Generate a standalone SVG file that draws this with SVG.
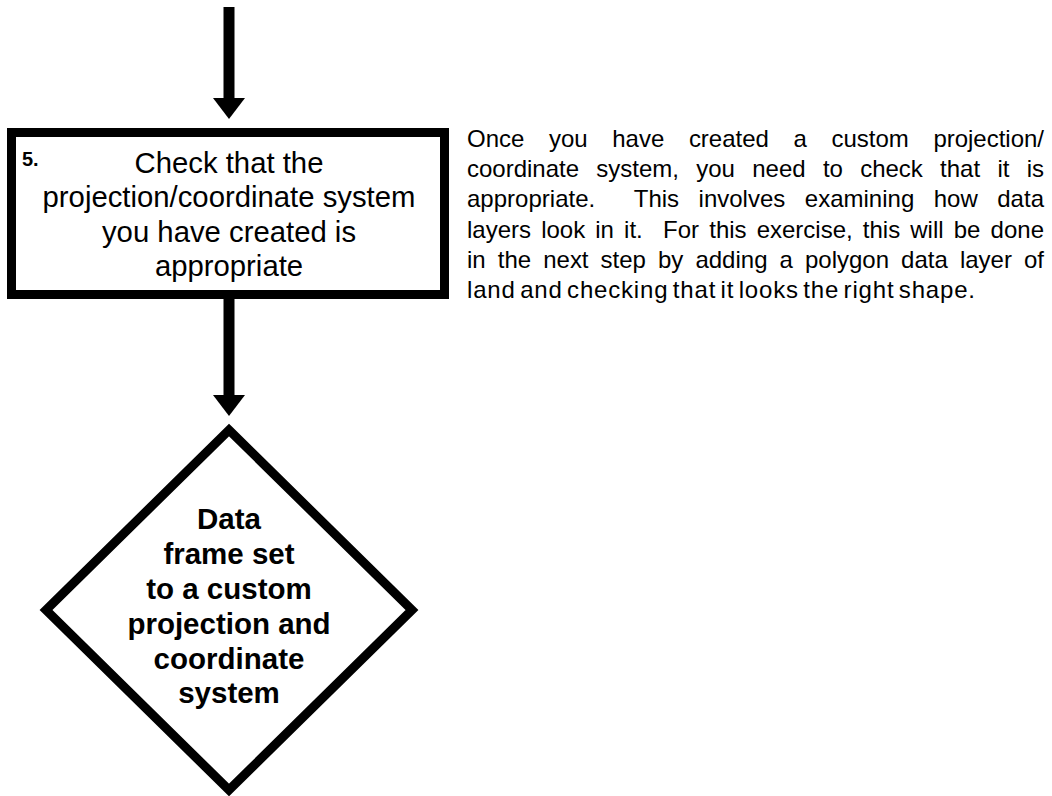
<svg xmlns="http://www.w3.org/2000/svg" width="1052" height="796" viewBox="0 0 1052 796">
<defs>
<style>
.shape{fill:#fff;stroke:#000;stroke-width:9;stroke-linejoin:miter;stroke-miterlimit:10}
.shaft{stroke:#000;stroke-width:11;fill:none}
.box{font-family:"Liberation Sans",Arial,sans-serif;font-size:29.3px;fill:#000;text-anchor:middle}
.dia{font-family:"Liberation Sans",Arial,sans-serif;font-size:29.5px;font-weight:bold;fill:#000;text-anchor:middle}
.num{font-family:"Liberation Sans",Arial,sans-serif;font-size:20px;font-weight:bold;fill:#000}
.note{font-family:"Liberation Sans",Arial,sans-serif;font-size:24px;fill:#000}
</style>
<marker id="head" viewBox="0 0 21 32" refX="1" refY="16" markerWidth="21" markerHeight="32" markerUnits="userSpaceOnUse" orient="auto">
<path d="M0,0 L21,16 L0,32 Z" fill="#000"/>
</marker>
</defs>
<rect x="0" y="0" width="1052" height="796" fill="#fff"/>
<g id="connectors">
<line class="shaft" x1="229" y1="7" x2="229" y2="99" marker-end="url(#head)"/>
<line class="shaft" x1="229" y1="295" x2="229" y2="396" marker-end="url(#head)"/>
</g>
<g id="step5">
<rect class="shape" x="11.5" y="132.5" width="433" height="162"/>
<text class="num" x="22" y="166">5.</text>
<text class="box" x="229" y="172.7">Check that the</text>
<text class="box" x="229" y="207.2">projection/coordinate system</text>
<text class="box" x="229" y="241.7">you have created is</text>
<text class="box" x="229" y="276.2">appropriate</text>
</g>
<g id="decision">
<polygon class="shape" points="229,430 412,610 229,790 46,610"/>
<text class="dia" x="229" y="528.5">Data</text>
<text class="dia" x="229" y="563.7">frame set</text>
<text class="dia" x="229" y="598.9">to a custom</text>
<text class="dia" x="229" y="634">projection and</text>
<text class="dia" x="229" y="669.2">coordinate</text>
<text class="dia" x="229" y="702.5">system</text>
</g>
<g id="note">
<text class="note" x="467" y="147" word-spacing="18" textLength="577" lengthAdjust="spacing">Once you have created a custom projection/</text>
<text class="note" x="467" y="177.2" word-spacing="10.6" textLength="577" lengthAdjust="spacing">coordinate system, you need to check that it is</text>
<text class="note" x="467" y="207.4" word-spacing="12.8" textLength="577" lengthAdjust="spacing" xml:space="preserve" style="white-space:pre">appropriate.  This involves examining how data</text>
<text class="note" x="467" y="237.6" word-spacing="3.5" textLength="577" lengthAdjust="spacing" xml:space="preserve" style="white-space:pre">layers look in it.  For this exercise, this will be done</text>
<text class="note" x="467" y="267.8" word-spacing="5.4" textLength="577" lengthAdjust="spacing">in the next step by adding a polygon data layer of</text>
<text class="note" x="467" y="298" word-spacing="-3" textLength="508" lengthAdjust="spacing">land and checking that it looks the right shape.</text>
</g>
</svg>
